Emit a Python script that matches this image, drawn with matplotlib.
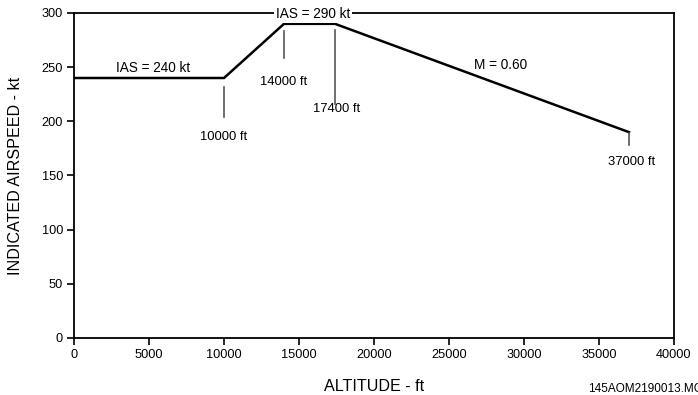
import matplotlib.pyplot as plt

plt.rcParams['font.family'] = ['Liberation Sans', 'DejaVu Sans']

# speed schedule
altitude = [0, 10000, 14000, 17400, 37000]
ias = [240, 240, 290, 290, 190]

# leader lines (x, y_top, y_bottom) and their labels
leaders = [(10000, 232, 204), (14000, 283, 258), (17400, 284, 216), (37000, 189, 178)]
leader_labels = ['10000 ft', '14000 ft', '17400 ft', '37000 ft']
leader_label_pos = [(10000, 186), (13950, 236), (17530, 211), (37200, 162)]

segment_labels = ['IAS = 240 kt', 'IAS = 290 kt', 'M = 0.60']
segment_label_pos = [(5270, 249), (15930, 299), (28470, 252)]

fig = plt.figure(figsize=(6.98, 3.95), dpi=100)
ax = fig.add_axes([74/698, 57/395, 600/698, 325/395])

ax.plot(altitude, ias, color='black', lw=1.8, solid_joinstyle='miter')

for (x, y1, y2) in leaders:
    ax.plot([x, x], [y1, y2], color='#555555', lw=1.2)

for t, (x, y) in zip(leader_labels, leader_label_pos):
    ax.text(x, y, t, ha='center', va='center', fontsize=9.4)

for t, (x, y) in zip(segment_labels, segment_label_pos):
    # only the top label needs to blank out the frame behind it
    bb = dict(facecolor='white', edgecolor='none', pad=1.5) if t == 'IAS = 290 kt' else None
    ax.text(x, y, t, ha='center', va='center', fontsize=9.8, bbox=bb, zorder=5)

ax.set_xlim(0, 40000)
ax.set_ylim(0, 300)
ax.set_xticks(range(0, 40001, 5000))
ax.set_yticks(range(0, 301, 50))
ax.tick_params(direction='out', length=5, width=1.2, labelsize=9.2, pad=3)
for s in ax.spines.values():
    s.set_linewidth(1.3)
ax.spines['top'].set_zorder(1)

ax.set_xlabel('ALTITUDE - ft', fontsize=11.6, labelpad=13)
ax.set_ylabel('INDICATED AIRSPEED - kt', fontsize=11.6, labelpad=13)

# the reference crops this id at the right edge
fig.text(588/698, 6/395, '145AOM2190013.MCE', fontsize=8.5, ha='left', va='center')

fig.savefig('out.png', dpi=100)
